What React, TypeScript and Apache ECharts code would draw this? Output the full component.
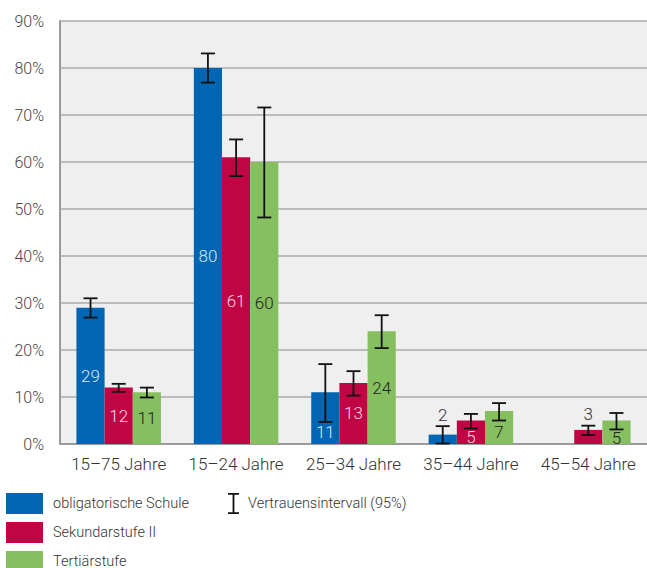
import React, { useEffect, useRef } from "react";
import * as echarts from "echarts";

const categories = ["15–75 Jahre", "15–24 Jahre", "25–34 Jahre", "35–44 Jahre", "45–54 Jahre"];
const seriesNames = ["obligatorische Schule", "Sekundarstufe II", "Tertiärstufe"];
const errorName = "Vertrauensintervall (95%)";
const yTicks = [0, 10, 20, 30, 40, 50, 60, 70, 80, 90];

const valuesSchule = [29, 80, 11, 2, null];
const valuesSek = [12, 61, 13, 5, 3];
const valuesTert = [11, 60, 24, 7, 5];

const lowSchule = [26.9, 76.9, 4.7, 0.1, null];
const highSchule = [31.0, 83.1, 17.0, 3.8, null];
const lowSek = [11.1, 57.0, 10.3, 3.3, 1.9];
const highSek = [12.8, 64.8, 15.5, 6.4, 3.9];
const lowTert = [9.9, 48.2, 20.4, 5.0, 3.1];
const highTert = [12.0, 71.6, 27.4, 8.7, 6.6];

const colors = ["#0066b3", "#c00545", "#86bf60"];
const labelColors = ["#d8e7f5", "#f7d6e1", "#222222"];
const FONT = "Roboto";
const CAT_GAP = 0.28;

// label placement tweaks: key "series-category"
const labelTweaks: Record<string, any> = {
  "0-2": { position: "inside", offset: [0, 14] },
  "0-3": { position: "top", distance: 11 },
  "1-3": { position: "inside", offset: [0, 5] },
  "1-4": { position: "top", distance: 7 },
  "2-3": { position: "inside", offset: [0, 4] },
  "2-4": { position: "inside", offset: [0, 6] },
};

const legendText = {
  fontFamily: FONT,
  fontWeight: 300,
  fontSize: 14.5,
  color: "#333",
};

export default function App() {
  const ref = useRef<HTMLDivElement>(null);
  useEffect(() => {
    if (!ref.current) return;
    const chart = echarts.init(ref.current, undefined, { renderer: "svg" });
    const allValues = [valuesSchule, valuesSek, valuesTert];
    const lows = [lowSchule, lowSek, lowTert];
    const highs = [highSchule, highSek, highTert];

    const barSeries = allValues.map((vals, si) => ({
      name: seriesNames[si],
      type: "bar",
      barGap: "0%",
      barCategoryGap: CAT_GAP * 100 + "%",
      itemStyle: { color: colors[si] },
      label: {
        show: true,
        position: "inside",
        color: labelColors[si],
        fontFamily: FONT,
        fontWeight: 300,
        fontSize: 17,
      },
      data: vals.map((v, ci) => {
        if (v === null) return "-";
        const tw = labelTweaks[si + "-" + ci];
        if (tw && tw.position === "top") {
          return { value: v, label: { position: "top", distance: tw.distance, color: "#333" } };
        }
        if (tw) return { value: v, label: { position: "inside", offset: tw.offset } };
        return v;
      }),
    }));

    const errData: any[] = [];
    for (let si = 0; si < 3; si++) {
      for (let ci = 0; ci < categories.length; ci++) {
        if (lows[si][ci] === null) continue;
        errData.push([ci, si, lows[si][ci], highs[si][ci]]);
      }
    }

    const errorSeries = {
      name: errorName,
      type: "custom",
      z: 10,
      itemStyle: { color: "#111" },
      encode: { x: 0, y: [2, 3] },
      renderItem: (params: any, api: any) => {
        const ci = api.value(0);
        const si = api.value(1);
        const lo = api.coord([ci, api.value(2)]);
        const hi = api.coord([ci, api.value(3)]);
        const band = api.size([1, 0])[0];
        const bw = (band * (1 - CAT_GAP)) / 3;
        const x = lo[0] + (si - 1) * bw;
        const cap = 7;
        const st = { stroke: "#111", lineWidth: 1.8 };
        return {
          type: "group",
          children: [
            { type: "line", shape: { x1: x, y1: lo[1], x2: x, y2: hi[1] }, style: st },
            { type: "line", shape: { x1: x - cap, y1: lo[1], x2: x + cap, y2: lo[1] }, style: st },
            { type: "line", shape: { x1: x - cap, y1: hi[1], x2: x + cap, y2: hi[1] }, style: st },
          ],
        };
      },
      data: errData,
    };

    const barLegends = seriesNames.map((n, i) => ({
      data: [n],
      orient: "vertical",
      left: 6,
      top: 493 + i * 29,
      padding: 0,
      itemWidth: 37,
      itemHeight: 21,
      icon: "rect",
      textStyle: { ...legendText, padding: [0, 0, 0, 5] },
    }));

    chart.setOption({
      animation: false,
      textStyle: { fontFamily: FONT },
      grid: {
        left: 60,
        right: 0,
        top: 21,
        bottom: 124,
        show: true,
        backgroundColor: "#efefef",
        borderWidth: 0,
      },
      legend: [
        ...barLegends,
        {
          data: [
            {
              name: errorName,
              icon: "path://M0,0 H11 V1.8 H6.4 V19.2 H11 V21 H0 V19.2 H4.6 V1.8 H0 Z",
              itemStyle: { color: "#111" },
            },
          ],
          left: 228,
          top: 493,
          padding: 0,
          itemWidth: 11,
          itemHeight: 21,
          textStyle: { ...legendText, padding: [0, 0, 0, 4] },
        },
      ],
      xAxis: {
        type: "category",
        data: categories,
        axisTick: { show: false },
        axisLine: { show: true, lineStyle: { color: "#9a9a9a", width: 2 } },
        axisLabel: {
          interval: 0,
          fontFamily: FONT,
          fontWeight: 300,
          fontSize: 17,
          color: "#333",
          margin: 11,
        },
        splitLine: { show: false },
      },
      yAxis: {
        type: "value",
        min: yTicks[0],
        max: yTicks[yTicks.length - 1],
        interval: 10,
        axisLine: { show: true, lineStyle: { color: "#9a9a9a", width: 2 } },
        axisTick: { show: false },
        axisLabel: {
          formatter: "{value}%",
          fontFamily: FONT,
          fontWeight: 300,
          fontSize: 16,
          color: "#444",
          margin: 16,
        },
        splitLine: { show: true, lineStyle: { color: "#ababab", width: 1.5 } },
      },
      series: [...barSeries, errorSeries],
    });
    return () => chart.dispose();
  }, []);
  return (
    <div
      ref={ref}
      style={{ position: "absolute", left: 0, top: 0, width: 647, height: 568 }}
    />
  );
}
